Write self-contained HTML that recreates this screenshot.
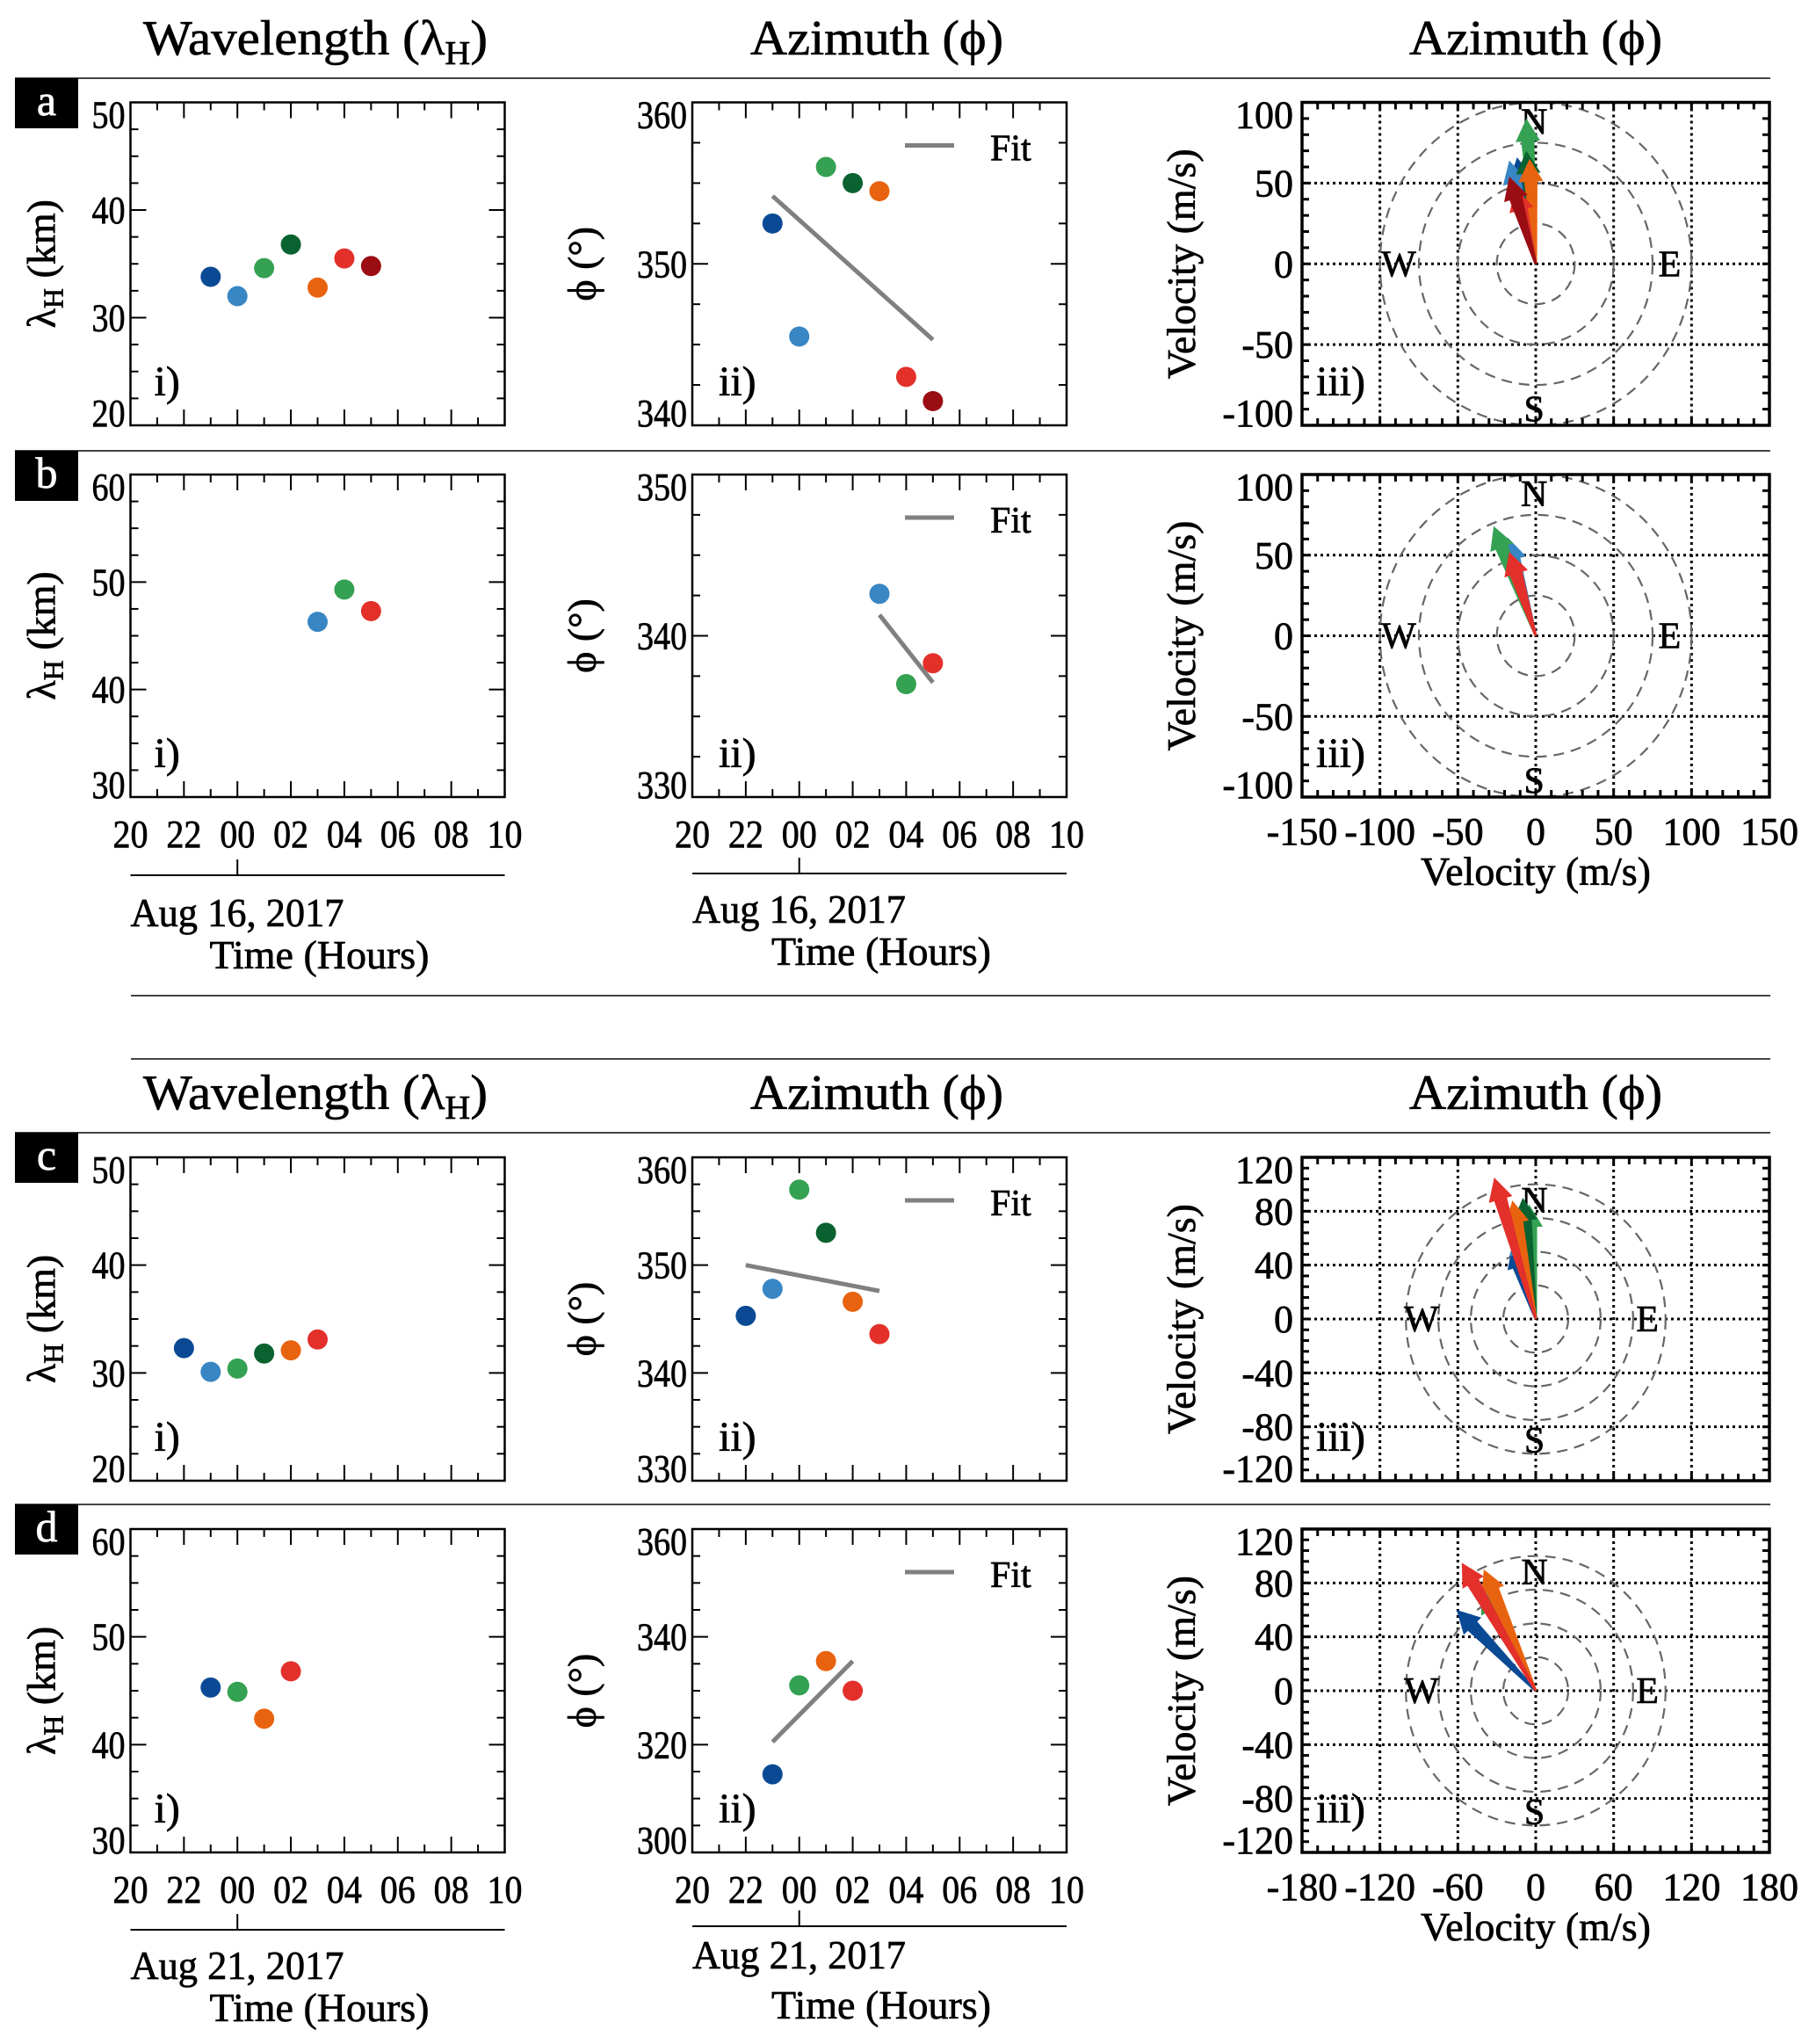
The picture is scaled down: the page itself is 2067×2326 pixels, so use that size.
<!DOCTYPE html>
<html><head><meta charset="utf-8"><style>
html,body{margin:0;padding:0;background:#fff}
svg{display:block}
text{font-family:"Liberation Serif","DejaVu Serif",serif;fill:#000;stroke:#000;stroke-width:0.7}
</style></head><body>
<svg id="fig" xmlns="http://www.w3.org/2000/svg" width="2067" height="2326" viewBox="0 0 2067 2326"></svg>
<script>
// ---- data ----
const COLORS = {DB:'#0a4a95',LB:'#3886c4',G:'#35a152',DG:'#0a6230',O:'#e8630f',R:'#e3302b',DR:'#9a0d13'};
// hour offset from 20:00 (20->0, 22->2, 00->4 ...)
const xTickLabels = ['20','22','00','02','04','06','08','10'];
const hoursA = [3,4,5,6,7,8,9];
const colorsA = ['DB','LB','G','DG','O','R','DR'];
const lambdaA = [33.8,32.0,34.6,36.8,32.8,35.5,34.8];
const azA = [352.5,345.5,356.0,355.0,354.5,343.0,341.5];
const fitXA = [3,9], fitYA = [354.2,345.3];
const vxA = [-12,-17,-6,-6,-4,-13,-17];
const vyA = [66,64,90,70,65,47,54];

const hoursB = [7,8,9];
const colorsB = ['LB','G','R'];
const lambdaB = [46.3,49.3,47.3];
const azB = [342.6,337.0,338.3];
const fitXB = [7,9], fitYB = [341.3,337.1];
const vxB = [-18,-27,-17];
const vyB = [61,68,52];

const hoursC = [2,3,4,5,6,7];
const colorsC = ['DB','LB','G','DG','O','R'];
const lambdaC = [32.3,30.1,30.4,31.8,32.1,33.1];
const azC = [345.3,347.8,357.0,353.0,346.6,343.6];
const fitXC = [2,7], fitYC = [350.0,347.6];
const vxC = [-18,-15,-5,-10,-18,-32];
const vyC = [55,65,85,90,88,105];

const hoursD = [3,4,5,6];
const colorsD = ['DB','G','O','R'];
const lambdaD = [45.3,44.9,42.4,46.8];
const azD = [314.5,331.0,335.5,330.0];
const fitXD = [3,6], fitYD = [320.5,335.5];
const vxD = [-61,-42,-40,-57];
const vyD = [60,75,90,95];

// ---- layout ----
const NS='http://www.w3.org/2000/svg';
const svg=document.getElementById('fig');
function el(tag,attrs,parent,txt){const e=document.createElementNS(NS,tag);for(const k in attrs)e.setAttribute(k,attrs[k]);if(txt!==undefined)e.textContent=txt;(parent||svg).appendChild(e);return e;}
const COL={i:[148.5,574.5],ii:[788,1214],iii:[1482,2014]};
const ROW={a:[116.5,484],b:[540,907],c:[1317,1685],d:[1740,2108]};

function line(x1,y1,x2,y2,st,sw,g,extra){const l=el('line',Object.assign({x1,y1,x2,y2,stroke:st||'#000','stroke-width':sw||2.5},extra||{}),g);return l;}

[[17,89],[17,513],[149,1133],[149,1205],[17,1289],[17,1712]].forEach(([x,y])=>{
  const l=line(x,y,2015,y,'#444',2);
  
  
});
function title(txt,cx,y,sub,w){
  const t=el('text',{x:cx,y:y,'text-anchor':'middle','font-size':56,textLength:w,lengthAdjust:'spacingAndGlyphs'});
  
  
  if(sub){el('tspan',{},t,txt[0]);el('tspan',{'font-size':38,dy:11},t,'H');el('tspan',{dy:-11},t,')');}
  else t.textContent=txt;
}
[62,1262].forEach(y=>{
  title(['Wavelength (λ'],359,y,true,392);
  title('Azimuth (ϕ)',998,y,false,288);
  title('Azimuth (ϕ)',1748,y,false,288);
});
[['a',89],['b',513],['c',1289],['d',1712]].forEach(([l,y])=>{
  const g=el('g',{});
  
  
  el('rect',{x:17,y:y,width:72,height:57,fill:'#000'},g);
  el('text',{x:53,y:y+42,'text-anchor':'middle','font-size':50,style:'fill:#fff;stroke:#fff'},g,l);
});

function timePanel(row,col,ymin,ymax,yStep,yMinor,hours,vals,cols,fitX,fitY,ylab,tag,showX){
  const [x0,x1]=COL[col],[y0,y1]=ROW[row];
  const g=el('g',{});
  
  
  const sx=h=>x0+(h/14)*(x1-x0);
  const sy=v=>y1-(v-ymin)/(ymax-ymin)*(y1-y0);
  for(let h=0;h<=14;h++){const X=sx(h);const L=h%2===0?18:9;line(X,y1,X,y1-L,'#000',2,g);line(X,y0,X,y0+L,'#000',2,g);}
  for(let v=ymin;v<=ymax+1e-6;v+=yMinor){const Y=sy(v);const major=Math.abs((v-ymin)/yStep-Math.round((v-ymin)/yStep))<1e-6;const L=major?18:9;line(x0,Y,x0+L,Y,'#000',2,g);line(x1,Y,x1-L,Y,'#000',2,g);}
  el('rect',{x:x0,y:y0,width:x1-x0,height:y1-y0,fill:'none',stroke:'#000','stroke-width':2.5},g);
  for(let v=ymin;v<=ymax+1e-6;v+=yStep){let Y=sy(v);Y=Math.min(Math.max(Y,y0+14),y1-14);
    const s=String(v);
    const t=el('text',{x:x0-6,y:Y+15,'text-anchor':'end','font-size':44,textLength:s.length*19,lengthAdjust:'spacingAndGlyphs'},g,s);
    
    }
  const yt=el('text',{transform:`translate(${x0-(tag==='i'?86:110)},${(y0+y1)/2}) rotate(-90)`,'text-anchor':'middle','font-size':46},g);
  
  
  if(tag==='i'){el('tspan',{},yt,'λ');el('tspan',{'font-size':32,dy:9},yt,'H');el('tspan',{dy:-9},yt,' (km)');}
  else yt.textContent='ϕ (°)';
  const pt=el('text',{x:x0+(tag==='i'?27:30),y:y1-34,'font-size':48},g,tag+')');
  
  
  if(fitX){
    const fl=line(sx(fitX[0]),sy(fitY[0]),sx(fitX[1]),sy(fitY[1]),'#808080',5,g);
    
    
    const lg=el('g',{},g);
    
    
    line(x0+242,y0+49,x0+298,y0+49,'#808080',5,lg);
    el('text',{x:x0+339,y:y0+66,'font-size':42},lg,'Fit');
  }
  vals.forEach((v,i)=>{
    const c=el('circle',{cx:sx(hours[i]),cy:sy(v),r:11.5,fill:COLORS[cols[i]]},g);
    
    
  });
  if(showX){
    xTickLabels.forEach((lab,k)=>{
      const t=el('text',{x:sx(k*2),y:y1+57,'text-anchor':'middle','font-size':44,textLength:40,lengthAdjust:'spacingAndGlyphs'},g,lab);
      
      
    });
  }
  return {sx,x0,x1,y1};
}

function dateAxis(p,lineY,augY,timeY,dateTxt){
  const g=el('g',{});
  
  
  line(p.x0,lineY,p.x1,lineY,'#000',2,g);
  line(p.sx(4),lineY,p.sx(4),lineY-18,'#000',2,g);
  el('text',{x:p.x0,y:augY,'font-size':46,textLength:243,lengthAdjust:'spacingAndGlyphs'},g,dateTxt);
  el('text',{x:p.x0+90,y:timeY,'font-size':46,textLength:250,lengthAdjust:'spacingAndGlyphs'},g,'Time (Hours)');
}

function velPanel(row,xmax,ymax,gx,gy,xTickStep,yTickStep,vx,vy,cols,showX){
  const [x0,x1]=COL.iii,[y0,y1]=ROW[row];
  const g=el('g',{});
  
  
  const sx=v=>x0+(v+xmax)/(2*xmax)*(x1-x0);
  const sy=v=>y1-(v+ymax)/(2*ymax)*(y1-y0);
  gx.forEach(v=>line(sx(v),y0,sx(v),y1,'#000',3,g,{'stroke-dasharray':'3,4'}));
  gy.forEach(v=>line(x0,sy(v),x1,sy(v),'#000',3,g,{'stroke-dasharray':'3,4'}));
  [25,50,75,100].forEach(r=>{
    const e=el('ellipse',{cx:sx(0),cy:sy(0),rx:sx(r)-sx(0),ry:sy(0)-sy(r),fill:'none',stroke:'#666','stroke-width':2.2,'stroke-dasharray':'12,8'},g);
    
    
  });
  for(let v=-xmax;v<=xmax+1e-6;v+=xTickStep){line(sx(v),y1,sx(v),y1-8,'#000',3,g);line(sx(v),y0,sx(v),y0+8,'#000',3,g);}
  for(let v=-ymax;v<=ymax+1e-6;v+=yTickStep){line(x0,sy(v),x0+8,sy(v),'#000',3,g);line(x1,sy(v),x1-8,sy(v),'#000',3,g);}
  el('rect',{x:x0,y:y0,width:x1-x0,height:y1-y0,fill:'none',stroke:'#000','stroke-width':3.5},g);
  [['N',-1,88],['S',-1,-90],['E',86,0],['W',-88,0]].forEach(([l,a,b])=>{
    const t=el('text',{x:sx(a),y:sy(b)+14,'text-anchor':'middle','font-size':42},g,l);
    
    
  });
  gy.concat([-ymax,ymax]).sort((a,b)=>a-b).forEach(v=>{
    let Y=Math.min(Math.max(sy(v),y0+14),y1-14);
    const s=String(v);
    const t=el('text',{x:x0-10,y:Y+15,'text-anchor':'end','font-size':44},g,s);
    
    
  });
  const yt=el('text',{transform:`translate(${x0-122},${(y0+y1)/2}) rotate(-90)`,'text-anchor':'middle','font-size':46},g,'Velocity (m/s)');
  
  
  const pt=el('text',{x:x0+16,y:y1-34,'font-size':48},g,'iii)');
  
  
  vx.forEach((u,i)=>{
    const X0=sx(0),Y0=sy(0),X1=sx(u),Y1=sy(vy[i]);
    const dx=X1-X0,dy=Y1-Y0,L=Math.hypot(dx,dy),ux=dx/L,uy=dy/L,px=-uy,py=ux;
    const hl=26,hw=14;const bx=X1-ux*hl,by=Y1-uy*hl;
    const a=el('g',{},g);
    
    
    el('polygon',{points:`${X0},${Y0} ${bx+px*6},${by+py*6} ${bx-px*6},${by-py*6}`,fill:COLORS[cols[i]],stroke:COLORS[cols[i]],'stroke-width':3},a);
    el('polygon',{points:`${X1},${Y1} ${bx+px*hw},${by+py*hw} ${bx-px*hw},${by-py*hw}`,fill:COLORS[cols[i]]},a);
  });
  if(showX){
    const labs=[];for(let v=-xmax;v<=xmax+1e-6;v+=(xmax===150?50:60))labs.push(v);
    labs.forEach(v=>{
      const t=el('text',{x:sx(v),y:y1+54,'text-anchor':'middle','font-size':44},g,String(v));
      
      
    });
    const xt=el('text',{x:sx(0),y:y1+100,'text-anchor':'middle','font-size':46,textLength:262,lengthAdjust:'spacingAndGlyphs'},g,'Velocity (m/s)');
    
    
  }
}

timePanel('a','i',20,50,10,2.5,hoursA,lambdaA,colorsA,null,null,'','i',false);
timePanel('a','ii',340,360,10,2.5,hoursA,azA,colorsA,fitXA,fitYA,'','ii',false);
velPanel('a',150,100,[-100,-50,0,50,100],[-50,0,50],10,10,vxA,vyA,colorsA,false);
const pbi=timePanel('b','i',30,60,10,2.5,hoursB,lambdaB,colorsB,null,null,'','i',true);
const pbii=timePanel('b','ii',330,350,10,2.5,hoursB,azB,colorsB,fitXB,fitYB,'','ii',true);
velPanel('b',150,100,[-100,-50,0,50,100],[-50,0,50],10,10,vxB,vyB,colorsB,true);
dateAxis(pbi,996,1054,1102,'Aug 16, 2017');
dateAxis(pbii,994,1050,1098,'Aug 16, 2017');
timePanel('c','i',20,50,10,2.5,hoursC,lambdaC,colorsC,null,null,'','i',false);
timePanel('c','ii',330,360,10,2.5,hoursC,azC,colorsC,fitXC,fitYC,'','ii',false);
velPanel('c',180,120,[-120,-60,0,60,120],[-80,-40,0,40,80],12,8,vxC,vyC,colorsC,false);
const pdi=timePanel('d','i',30,60,10,2.5,hoursD,lambdaD,colorsD,null,null,'','i',true);
const pdii=timePanel('d','ii',300,360,20,5,hoursD,azD,colorsD,fitXD,fitYD,'','ii',true);
velPanel('d',180,120,[-120,-60,0,60,120],[-80,-40,0,40,80],12,8,vxD,vyD,colorsD,true);
dateAxis(pdi,2196,2252,2300,'Aug 21, 2017');
dateAxis(pdii,2192,2240,2297,'Aug 21, 2017');
</script>
</body></html>
